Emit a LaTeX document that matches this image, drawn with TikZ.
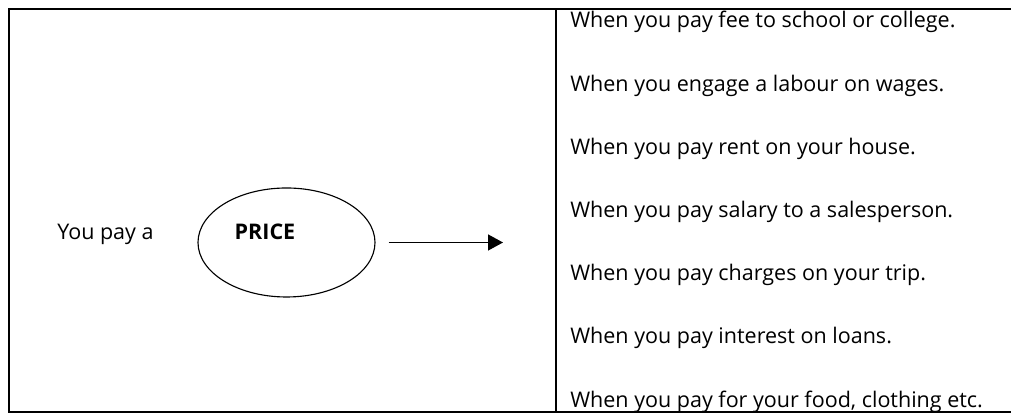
\documentclass[tikz,border=0pt]{standalone}
\usepackage{fontspec}
\setmainfont{Open Sans}
\usetikzlibrary{shapes.geometric, arrows.meta}

\begin{document}
\begin{tikzpicture}[every node/.style = {font = \fontsize{15.3}{18}\selectfont}, case/.style = {anchor = base west, inner sep = 0pt}]
	 \useasboundingbox (0, 0) rectangle (25.275, 10.375);
	 \draw[line width = 1pt] (25.275, 10.15) -- (0.225, 10.15) -- (0.225, 0.075) -- (25.275, 0.075);
	 \draw[line width = 1pt] (13.9, 0.075) -- (13.9, 10.15);
	 
	 \node[case] (youpay) at (1.425, 4.375) {You pay a};
	 \node[draw, thick, ellipse, minimum width = 4.425 cm, minimum height = 2.725 cm] (price) at (7.1625, 4.3125) {};
	 \node[anchor = base, inner sep = 0pt, font = \fontsize{15.3}{18}\selectfont\bfseries] (pricetext) at (6.625, 4.375) {PRICE};
	 
	 \coordinate (tip) at (12.575, 4.3125);
	 \draw[line width = 1pt, -{Triangle[length = 10.6pt, width = 11.3pt]}] ([xshift = 0.325 cm] price.east) -- (tip);
	 
	 \foreach \txt [count = \i] in {When you pay fee to school or college., When you engage a labour on wages., When you pay rent on your house., When you pay salary to a salesperson., When you pay charges on your trip., When you pay interest on loans., {When you pay for your food, clothing etc.}}
	 \node[case] (case\i) at (14.25, {9.675 - 1.58 * (\i - 1)}) {\txt};
\end{tikzpicture}
\end{document}
